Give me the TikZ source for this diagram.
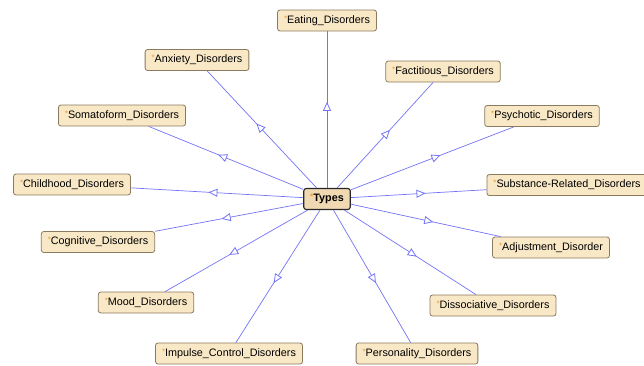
\documentclass[tikz,border=0pt]{standalone}
\usepackage{fontspec}
\setmainfont{Liberation Sans}
\usetikzlibrary{arrows.meta,decorations.markings}

\definecolor{boxfill}{HTML}{F9E8C6}
\definecolor{boxline}{HTML}{8A7A5E}
\definecolor{linkblue}{HTML}{7373F8}
\definecolor{starcol}{HTML}{E89A30}

\newcommand{\owl}[1]{\textcolor{starcol}{\raisebox{2pt}{\footnotesize*}}#1}

\begin{document}
\begin{tikzpicture}[x=1pt, y=-1pt, font=\fontsize{10.8}{12}\selectfont,
    cls/.style={draw=boxline, line width=0.8pt, fill=boxfill, rounded corners=2.5pt, minimum height=21pt, inner xsep=6.5pt, inner ysep=0pt},
    root/.style={cls, draw=black!85, line width=1.1pt, fill=boxfill!85!brown, font=\fontsize{10.8}{12}\selectfont\bfseries},
    isa/.style={draw=linkblue, line width=0.7pt, postaction={decorate},
        decoration={markings, mark=at position 0.55 with {\arrow[linkblue, line width=0.8pt]{Triangle[open, length=9pt, width=8pt, fill=white]}}}}]
    \useasboundingbox (0,0) rectangle (644,365);

    % Nodes
    \node[root] (types) at (327,199) {\owl{Types}};
    \node[cls] (eating) at (327,20.5) {\owl{Eating\_Disorders}};
    \node[cls] (anxiety) at (197,60) {\owl{Anxiety\_Disorders}};
    \node[cls] (factitious) at (443,71.5) {\owl{Factitious\_Disorders}};
    \node[cls] (somatoform) at (122,115.5) {\owl{Somatoform\_Disorders}};
    \node[cls] (psychotic) at (542,116) {\owl{Psychotic\_Disorders}};
    \node[cls] (childhood) at (72,184.5) {\owl{Childhood\_Disorders}};
    \node[cls] (substance) at (567,185) {\owl{Substance-Related\_Disorders}};
    \node[cls] (cognitive) at (98,242) {\owl{Cognitive\_Disorders}};
    \node[cls] (adjustment) at (551,247.5) {\owl{Adjustment\_Disorder}};
    \node[cls] (mood) at (146,302.5) {\owl{Mood\_Disorders}};
    \node[cls] (dissociative) at (493,305.5) {\owl{Dissociative\_Disorders}};
    \node[cls] (impulse) at (229,353.5) {\owl{Impulse\_Control\_Disorders}};
    \node[cls] (personality) at (417,353.5) {\owl{Personality\_Disorders}};

    % Lines
    \foreach \sub in {eating,anxiety,factitious,somatoform,psychotic,childhood,substance,
                      cognitive,adjustment,mood,dissociative,impulse,personality}
        \draw[isa] (types) -- (\sub);
\end{tikzpicture}
\end{document}
